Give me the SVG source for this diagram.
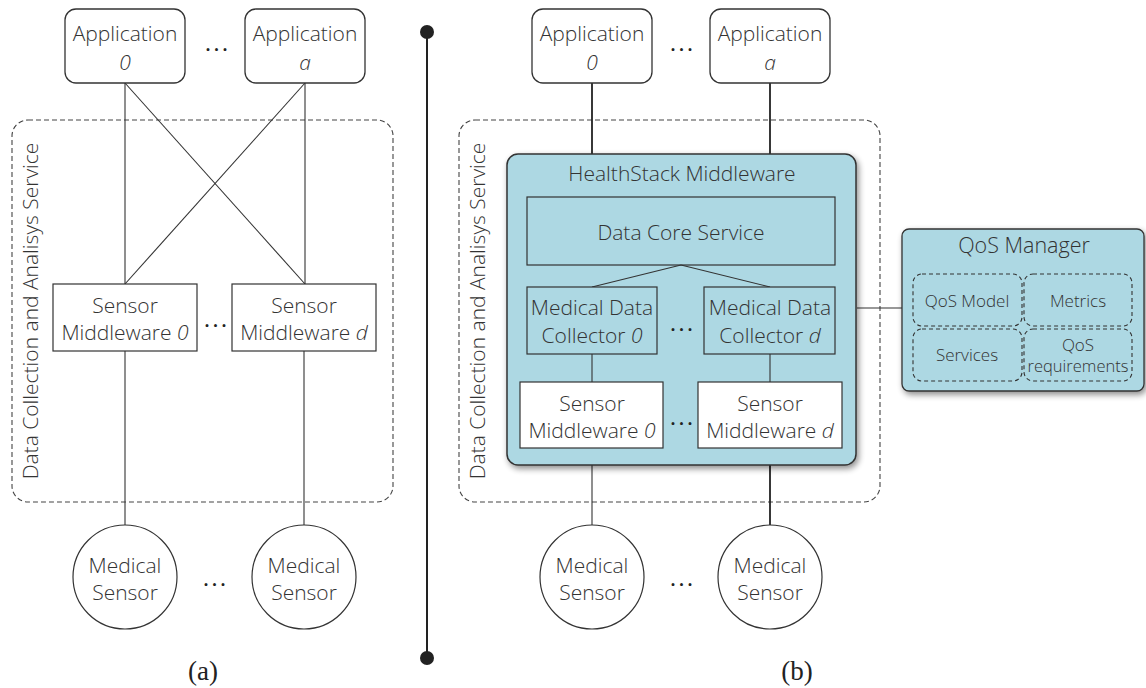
<svg xmlns="http://www.w3.org/2000/svg" width="1146" height="688" viewBox="0 0 1146 688">
<defs>
<style>
text{font-family:"Open Sans","Noto Sans","Liberation Sans",sans-serif;font-weight:300;fill:#333;text-anchor:middle}
.t{font-size:21px}
.s{font-size:17px}
.cap{font-family:"Liberation Serif",serif;font-weight:400;font-size:27px;fill:#222}
.app{fill:#fff;stroke:#333;stroke-width:1.3}
.box{fill:#fff;stroke:#333;stroke-width:1.2}
.bbox{fill:#add8e3;stroke:#333;stroke-width:1.2}
.cont{fill:none;stroke:#444;stroke-width:1.1;stroke-dasharray:5 3}
.idash{fill:none;stroke:#333;stroke-width:1.1;stroke-dasharray:4 3}
.ln{stroke:#333;stroke-width:1.1;fill:none}
.lnb{stroke:#222;stroke-width:1.8;fill:none}
.dots{font-size:20px;font-weight:600;letter-spacing:3px;fill:#222}
</style>
<filter id="sh" x="-10%" y="-10%" width="125%" height="125%">
<feGaussianBlur in="SourceAlpha" stdDeviation="3"/>
<feOffset dx="2" dy="3" result="b"/>
<feComponentTransfer><feFuncA type="linear" slope="0.45"/></feComponentTransfer>
<feMerge><feMergeNode/><feMergeNode in="SourceGraphic"/></feMerge>
</filter>
</defs>
<rect width="1146" height="688" fill="#fff"/>

<!-- Panel (a) -->
<g id="a-container">
<rect class="cont" x="12" y="120" width="381" height="382" rx="16"/>
<text class="t" transform="translate(38 311) rotate(-90)">Data Collection and Analisys Service</text>
</g>
<g id="connectors-a">
<line class="ln" x1="125" y1="83" x2="125" y2="284"/>
<line class="ln" x1="305" y1="83" x2="305" y2="284"/>
<line class="ln" x1="125" y1="83" x2="305" y2="284"/>
<line class="ln" x1="305" y1="83" x2="125" y2="284"/>
<line class="ln" x1="125" y1="351" x2="125" y2="525"/>
<line class="ln" x1="304" y1="351" x2="304" y2="525"/>
</g>
<g id="a-app0"><rect class="app" x="65" y="9" width="120" height="74" rx="11"/><text class="t" x="125" y="41">Application</text><text class="t" x="125" y="70" font-style="italic">0</text></g>
<g id="a-appa"><rect class="app" x="245" y="9" width="120" height="74" rx="11"/><text class="t" x="305" y="41">Application</text><text class="t" x="305" y="70" font-style="italic">a</text></g>
<text class="dots" x="218" y="57">···</text>
<g id="a-sm0"><rect class="box" x="53" y="284" width="144" height="67"/><text class="t" x="125" y="313">Sensor</text><text class="t" x="125" y="340">Middleware <tspan font-style="italic">0</tspan></text></g>
<g id="a-smd"><rect class="box" x="232" y="284" width="144" height="67"/><text class="t" x="304" y="313">Sensor</text><text class="t" x="304" y="340">Middleware <tspan font-style="italic">d</tspan></text></g>
<text class="dots" x="217" y="333">···</text>
<g id="a-ms0"><circle class="box" cx="125" cy="577" r="52"/><text class="t" x="125" y="573">Medical</text><text class="t" x="125" y="600">Sensor</text></g>
<g id="a-msd"><circle class="box" cx="304" cy="577" r="52"/><text class="t" x="304" y="573">Medical</text><text class="t" x="304" y="600">Sensor</text></g>
<text class="dots" x="216" y="592">···</text>
<text class="cap" x="203" y="680">(a)</text>

<!-- Divider -->
<g id="divider">
<line x1="427" y1="32" x2="427" y2="658" stroke="#222" stroke-width="2"/>
<circle cx="427" cy="32" r="7" fill="#222"/>
<circle cx="427" cy="658" r="7" fill="#222"/>
</g>

<!-- Panel (b) -->
<g id="b-container">
<rect class="cont" x="459" y="120" width="421" height="382" rx="16"/>
<text class="t" transform="translate(485 311) rotate(-90)">Data Collection and Analisys Service</text>
</g>
<g id="connectors-b">
<line class="lnb" x1="592" y1="83" x2="592" y2="154"/>
<line class="lnb" x1="770" y1="83" x2="770" y2="154"/>
<line class="ln" x1="592" y1="465" x2="592" y2="525"/>
<line class="lnb" x1="770" y1="465" x2="770" y2="525"/>
<line class="ln" x1="857" y1="308" x2="902" y2="308"/>
</g>
<g id="b-app0"><rect class="app" x="532" y="9" width="120" height="74" rx="11"/><text class="t" x="592" y="41">Application</text><text class="t" x="592" y="70" font-style="italic">0</text></g>
<g id="b-appa"><rect class="app" x="710" y="9" width="120" height="74" rx="11"/><text class="t" x="770" y="41">Application</text><text class="t" x="770" y="70" font-style="italic">a</text></g>
<text class="dots" x="683" y="57">···</text>

<g id="healthstack">
<rect x="507" y="154" width="349" height="311" rx="11" fill="#add8e3" stroke="#333" stroke-width="1.5" filter="url(#sh)"/>
<text class="t" x="682" y="181">HealthStack Middleware</text>
</g>
<g id="datacore"><rect class="bbox" x="527" y="197" width="308" height="68"/><text class="t" x="681" y="240">Data Core Service</text></g>
<g id="connectors-inner">
<line class="ln" x1="681" y1="265" x2="592" y2="287"/>
<line class="ln" x1="681" y1="265" x2="770" y2="287"/>
<line class="ln" x1="592" y1="354" x2="592" y2="382"/>
<line class="ln" x1="770" y1="354" x2="770" y2="382"/>
</g>
<g id="mdc0"><rect class="bbox" x="527" y="287" width="130" height="67"/><text class="t" x="592" y="315">Medical Data</text><text class="t" x="592" y="343">Collector <tspan font-style="italic">0</tspan></text></g>
<g id="mdcd"><rect class="bbox" x="704" y="287" width="131" height="67"/><text class="t" x="770" y="315">Medical Data</text><text class="t" x="770" y="343">Collector <tspan font-style="italic">d</tspan></text></g>
<text class="dots" x="683" y="337">···</text>
<g id="b-sm0"><rect class="box" x="520" y="382" width="143" height="66"/><text class="t" x="592" y="411">Sensor</text><text class="t" x="592" y="438">Middleware <tspan font-style="italic">0</tspan></text></g>
<g id="b-smd"><rect class="box" x="698" y="382" width="144" height="66"/><text class="t" x="770" y="411">Sensor</text><text class="t" x="770" y="438">Middleware <tspan font-style="italic">d</tspan></text></g>
<text class="dots" x="683" y="431">···</text>
<g id="b-ms0"><circle class="box" cx="592" cy="577" r="52"/><text class="t" x="592" y="573">Medical</text><text class="t" x="592" y="600">Sensor</text></g>
<g id="b-msd"><circle class="box" cx="770" cy="577" r="52"/><text class="t" x="770" y="573">Medical</text><text class="t" x="770" y="600">Sensor</text></g>
<text class="dots" x="683" y="592">···</text>
<text class="cap" x="797" y="680">(b)</text>

<g id="qos">
<rect x="902" y="229" width="242" height="162" rx="7" fill="#add8e3" stroke="#333" stroke-width="1.3" filter="url(#sh)"/>
<text class="t" x="1024" y="253" style="font-size:21.5px">QoS Manager</text>
<g id="qos-model"><rect class="idash" x="913" y="274" width="109" height="52" rx="9"/><text class="s" x="967" y="307">QoS Model</text></g>
<g id="qos-metrics"><rect class="idash" x="1024" y="274" width="108" height="52" rx="9"/><text class="s" x="1078" y="307">Metrics</text></g>
<g id="qos-services"><rect class="idash" x="913" y="329" width="109" height="52" rx="9"/><text class="s" x="967" y="361">Services</text></g>
<g id="qos-req"><rect class="idash" x="1024" y="329" width="108" height="52" rx="9"/><text class="s" x="1078" y="351">QoS</text><text class="s" x="1078" y="372" style="font-size:16.5px">requirements</text></g>
</g>
</svg>
